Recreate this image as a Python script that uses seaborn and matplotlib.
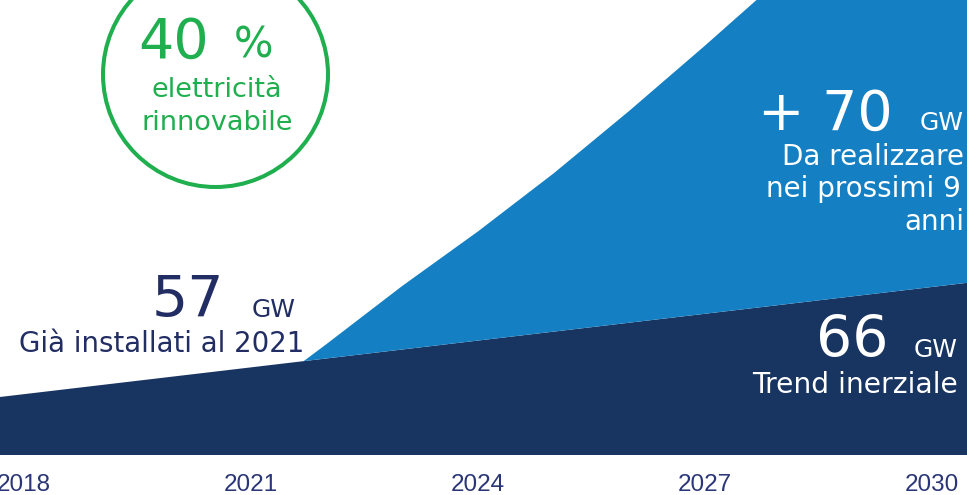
import numpy as np
import pandas as pd
import seaborn as sns
import matplotlib
matplotlib.use("Agg")
import matplotlib.pyplot as plt
from matplotlib.patches import Ellipse

# Installed renewable capacity (GW): inertial trend and the extra capacity to be built
years = [2017, 2018, 2019, 2020, 2021, 2021.7, 2022, 2023, 2024, 2025, 2026, 2027, 2028, 2029, 2030, 2031]
trend_gw = [53, 54, 55, 56, 57, 57.7, 58, 59, 60, 61, 62, 63, 64, 65, 66, 67]
extra_gw = [0, 0, 0, 0, 0, 0, 1.6, 7.1, 12.2, 17.7, 23.7, 30.0, 36.5, 52.0, 70.0, 90.0]
tick_years = [2018, 2021, 2024, 2027, 2030]

df = pd.DataFrame({"anno": years, "trend": trend_gw, "extra": extra_gw})

W, H, DPI = 967, 495, 100
DARK = "#183562"
LIGHT = "#1480c3"
GREEN = "#1faf4e"
NAVY = "#212d63"
TICK = "#2a3677"

sns.set_theme(style="white")
plt.rcParams["font.family"] = ["DejaVu Sans"]

fig = plt.figure(figsize=(W / DPI, H / DPI), dpi=DPI)
ax = fig.add_axes([0, 1 - 455 / H, 1, 455 / H])

ax.stackplot(df["anno"], df["trend"], df["extra"], colors=[DARK, LIGHT], linewidth=0)
sns.lineplot(data=df, x="anno", y="trend", ax=ax, color=DARK, linewidth=0)

ax.set_xlim(2017.69, 2030.46)
ax.set_ylim(47.2, 98.1)
ax.set_xticks(tick_years)
ax.set_xticklabels([str(y) for y in tick_years], fontsize=17.5, color=TICK,
                   family=["Liberation Sans", "DejaVu Sans"])
ax.tick_params(axis="x", length=0, pad=14)
ax.set_yticks([])
ax.set_xlabel("")
ax.set_ylabel("")
sns.despine(ax=ax, left=True, bottom=True, top=True, right=True)
ax.patch.set_alpha(0)


def ftext(x, y, s, **kw):
    fig.text(x / W, 1 - y / H, s, **kw)


# Green badge
fig.add_artist(Ellipse((215.5 / W, 1 - 74.5 / H), 225 / W, 225 / H,
                       transform=fig.transFigure, fill=False,
                       edgecolor=GREEN, linewidth=2.9))
ftext(209, 58, "40", fontsize=40, color=GREEN, ha="right", va="baseline")
ftext(234, 58, "%", fontsize=30, color=GREEN, ha="left", va="baseline")
ftext(217, 97, "elettricità", fontsize=19.5, color=GREEN, ha="center", va="baseline")
ftext(217, 130, "rinnovabile", fontsize=19.5, color=GREEN, ha="center", va="baseline")

# Installed capacity label
ftext(224, 317, "57", fontsize=41, color=NAVY, ha="right", va="baseline")
ftext(296, 317, "GW", fontsize=18, color=NAVY, ha="right", va="baseline")
ftext(304, 352, "Già installati al 2021", fontsize=19.9, color=NAVY, ha="right", va="baseline")

# Additional capacity label
ftext(893, 130, "+ 70", fontsize=40, color="white", ha="right", va="baseline")
ftext(964, 130, "GW", fontsize=18, color="white", ha="right", va="baseline")
ftext(964, 165, "Da realizzare", fontsize=20, color="white", ha="right", va="baseline")
ftext(961, 197, "nei prossimi 9", fontsize=20, color="white", ha="right", va="baseline")
ftext(964, 230, "anni", fontsize=20, color="white", ha="right", va="baseline")

# Inertial trend label
ftext(888, 357, "66", fontsize=41, color="white", ha="right", va="baseline")
ftext(958, 357, "GW", fontsize=18, color="white", ha="right", va="baseline")
ftext(958, 393, "Trend inerziale", fontsize=20.3, color="white", ha="right", va="baseline")

fig.savefig("out.png", dpi=DPI, facecolor="white")
